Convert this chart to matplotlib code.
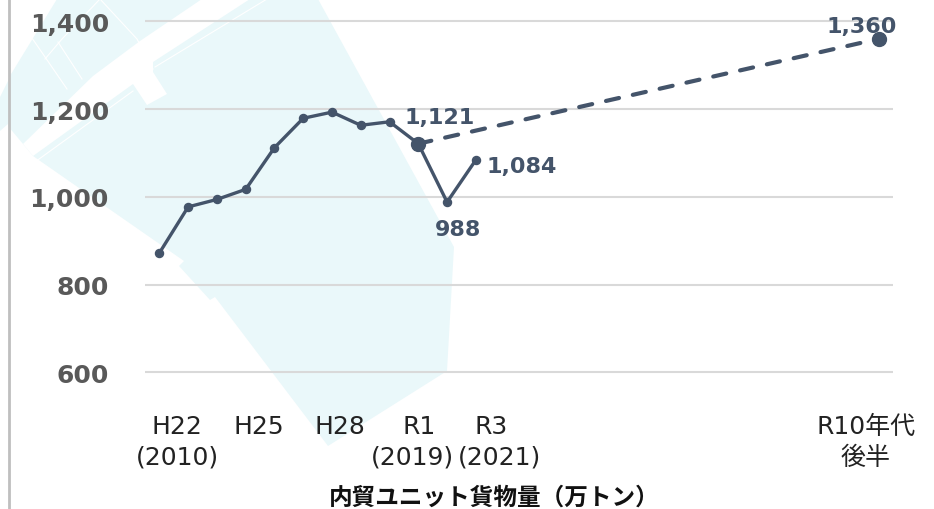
import matplotlib
matplotlib.use("Agg")
import matplotlib.pyplot as plt
from matplotlib.patches import Polygon

plt.rcParams['font.family'] = ['DejaVu Sans', 'Noto Sans CJK JP']

values = [872, 977, 994, 1017, 1112, 1179, 1193, 1163, 1171, 1121, 988, 1084]
plan_idx = [9, 25]
plan_vals = [1121, 1360]
yticks = [600, 800, 1000, 1200, 1400]
line1_labels = ['H22', 'H25', 'H28', 'R1', 'R3', 'R10年代']
line1_idx = [0, 3, 6, 9, 11, 25]
line2_labels = ['(2010)', '(2019)', '(2021)', '後半']
line2_idx = [0, 9, 11, 25]
title = '内貿ユニット貨物量（万トン）'

NAVY = '#44546A'
GREY = '#595959'
TEAL = '#EAF8FA'
line1_dx = [18, 13, 8, 1, 15, -13]
line2_dx = [18, -6, 24, -13]

W, H = 934, 510
fig = plt.figure(figsize=(W/100, H/100), dpi=100)

bg = fig.add_axes([0, 0, 1, 1]); bg.axis('off'); bg.set_xlim(0, W); bg.set_ylim(H, 0)
bg.add_patch(Polygon([(8, 80), (57, 0), (318, 0), (454, 248), (447, 372), (328, 447), (215, 298), (210, 301),
                      (179, 267), (184, 262), (33, 157), (23, 145), (8, 127)], fc=TEAL, ec='none'))
bg.add_patch(Polygon([(0, 98), (8, 82), (8, 125), (0, 132)], fc=TEAL, ec='none'))
bg.add_patch(Polygon([(23, 145), (93, 77), (140, 42), (202, 0), (250, 0), (153, 63), (153, 73), (167, 95),
                      (147, 106), (133, 85), (33, 157)], fc='white', ec='none'))
roads = [([10, 67], [7, 90]), ([100, 137, 153], [0, 40, 70]), ([58, 82], [43, 80]),
         ([155, 267], [68, 0]), ([45, 62, 100], [60, 40, 0]), ([35, 133], [163, 92])]
for rx, ry in roads:
    bg.plot(rx, ry, color='white', lw=0.8)

ax = fig.add_axes([145/W, 1-440/H, 748/W, 440/H])
ax.patch.set_alpha(0)
ppu = 351/800
ax.set_xlim(-0.5, 25.5)
ax.set_ylim(600-(440-373.3)/ppu, 1400+22.3/ppu)
for s in ax.spines.values():
    s.set_visible(False)
ax.set_yticks(yticks)
ax.set_yticklabels([f'{v:,}' for v in yticks], fontsize=18, fontweight='bold', color=GREY)
ax.tick_params(axis='y', length=0, pad=26)
ax.set_xticks([])
ax.grid(axis='y', color='#D9D9D9', lw=1.5)
ax.set_axisbelow(True)

x = list(range(len(values)))
ax.plot(x, values, color=NAVY, lw=2.4, marker='o', ms=5.8, zorder=3)
ax.plot(plan_idx, plan_vals, color=NAVY, lw=3, dashes=(3.2, 3.4), dash_capstyle='round', zorder=3)
ax.plot(plan_idx, plan_vals, ls='none', marker='o', ms=10, color=NAVY, zorder=4)

lab = dict(color=NAVY, fontsize=16, fontweight='bold', ha='center', va='center')
ax.annotate('1,121', (9, 1121), xytext=(21, 27), textcoords='offset pixels', **lab)
ax.annotate('988', (10, 988), xytext=(11, -27), textcoords='offset pixels', **lab)
ax.annotate('1,084', (11, 1084), xytext=(46, -6), textcoords='offset pixels', **lab)
ax.annotate('1,360', (25, 1360), xytext=(-17, 13), textcoords='offset pixels', **lab)

tick_style = dict(xycoords=ax.get_xaxis_transform(), textcoords='offset pixels', ha='center', va='center',
                  fontsize=18, color='#222222')
for i, t, dx in zip(line1_idx, line1_labels, line1_dx):
    ax.annotate(t, (i, 0), xytext=(dx, 440-427), **tick_style)
for i, t, dx in zip(line2_idx, line2_labels, line2_dx):
    ax.annotate(t, (i, 0), xytext=(dx, 440-458), **tick_style)

fig.text(494/W, 1-498/H, title, fontsize=17, fontweight='bold', color='#111111', ha='center', va='center',
         family=['Noto Sans CJK JP', 'DejaVu Sans'])
fig.add_artist(plt.Line2D([8.5/W, 8.5/W], [0, 1], color='#BFBFBF', lw=2))
fig.savefig('out.png', dpi=100)
